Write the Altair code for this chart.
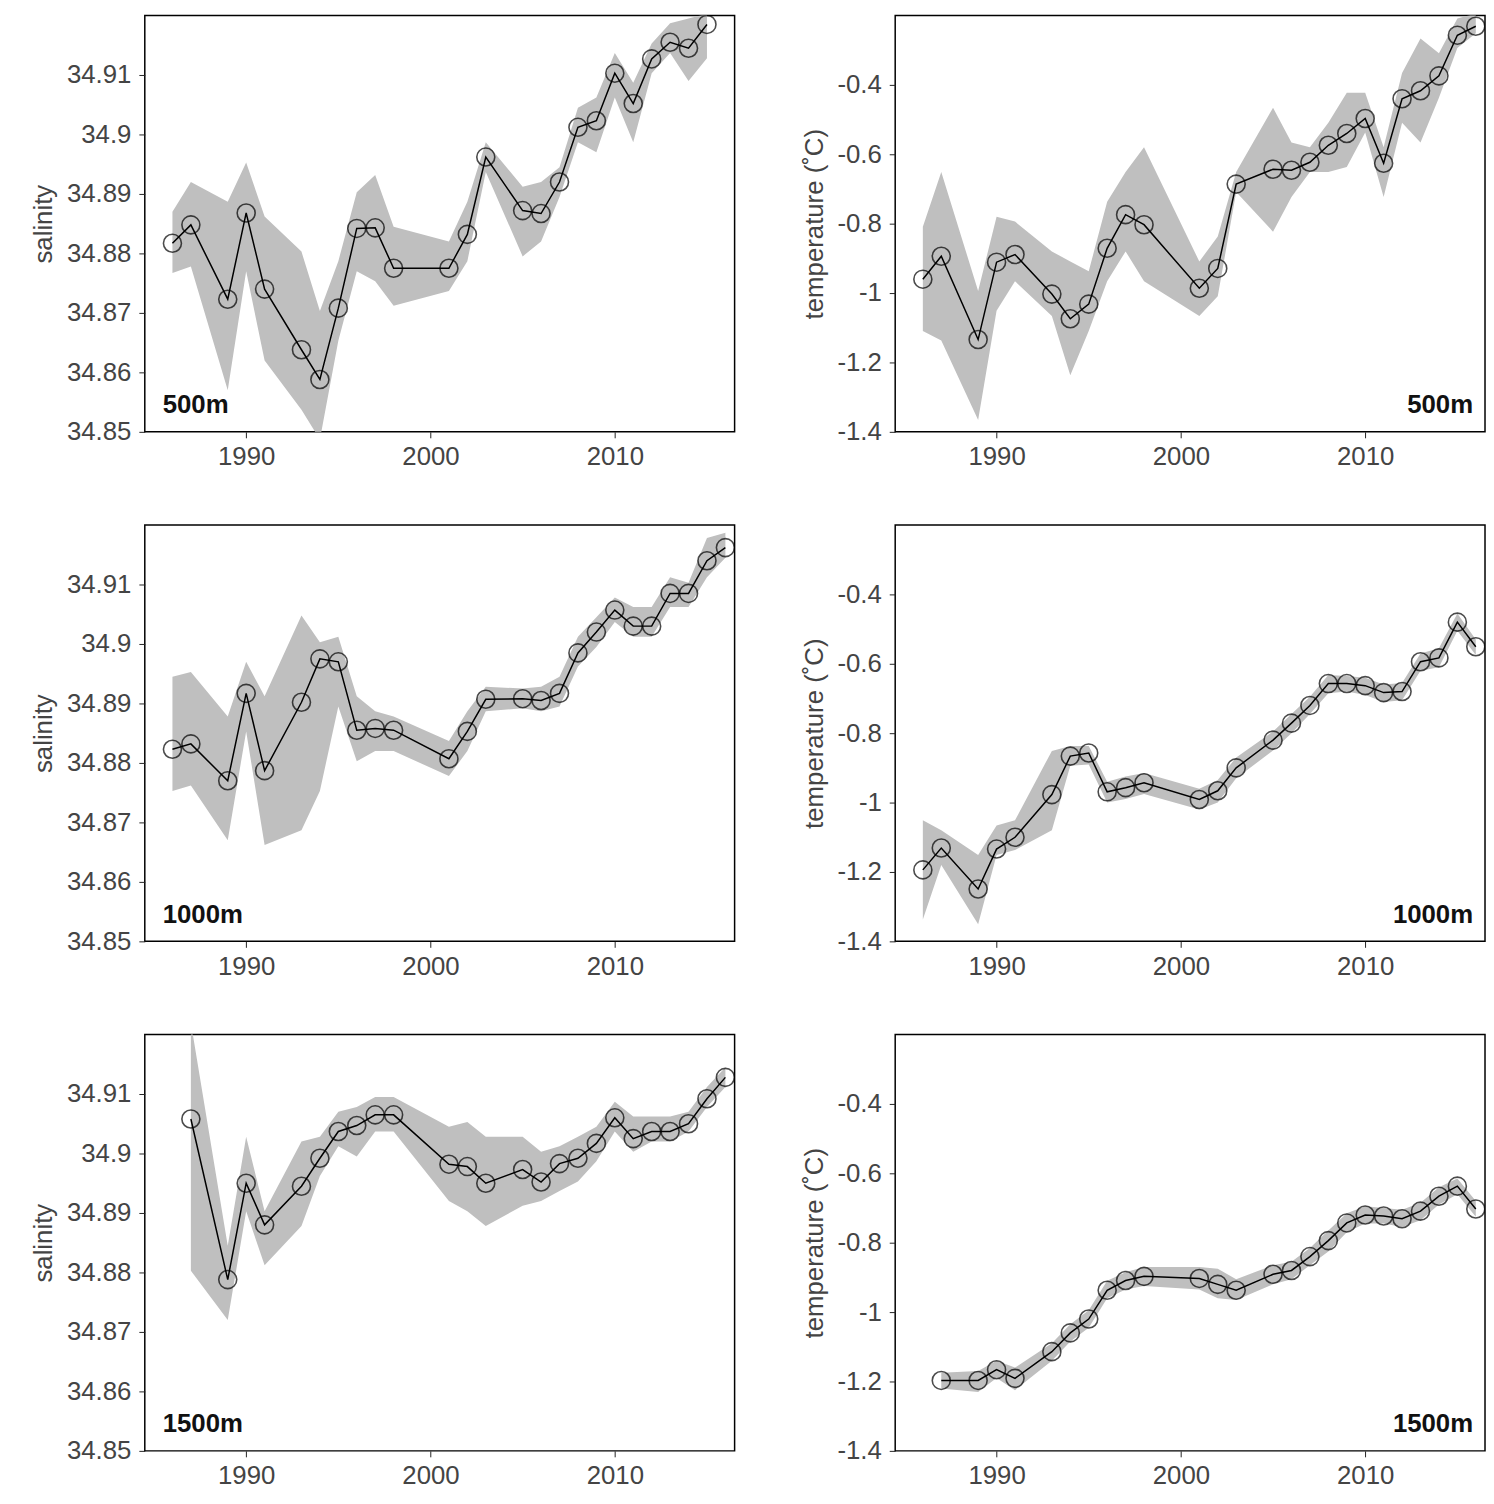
import altair as alt
import pandas as pd

years_a = [1986, 1987, 1989, 1990, 1991, 1993, 1994, 1995, 1996, 1997, 1998, 2001, 2002,
           2003, 2005, 2006, 2007, 2008, 2009, 2010, 2011, 2012, 2013, 2014, 2015]
years_b = years_a + [2016]
years_c = [1987, 1989, 1990, 1991, 1993, 1994, 1995, 1996, 1997, 1998, 2001, 2002,
           2003, 2005, 2006, 2007, 2008, 2009, 2010, 2011, 2012, 2013, 2014, 2015, 2016]

# 500 m salinity
sal500 = [34.8817, 34.8848, 34.8723, 34.8868, 34.874, 34.8638, 34.8588, 34.8708, 34.8842, 34.8843,
          34.8775, 34.8775, 34.8832, 34.8962, 34.8872, 34.8867, 34.892, 34.9012, 34.9023, 34.9103,
          34.9052, 34.9127, 34.9155, 34.9145, 34.9185]
sal500_hi = [34.887, 34.892, 34.8887, 34.8953, 34.8862, 34.8803, 34.8703, 34.8787, 34.8903, 34.8932,
             34.8845, 34.882, 34.8887, 34.8987, 34.8912, 34.892, 34.8945, 34.9045, 34.9062, 34.9137,
             34.9087, 34.9153, 34.9187, 34.9195, 34.9203]
sal500_lo = [34.8767, 34.8778, 34.857, 34.877, 34.862, 34.8537, 34.8487, 34.8653, 34.877, 34.8753,
             34.8712, 34.8737, 34.8787, 34.8937, 34.8795, 34.882, 34.8895, 34.8987, 34.897, 34.9062,
             34.8987, 34.9103, 34.9137, 34.909, 34.9128]

# 500 m temperature
tem500 = [-0.960, -0.894, -1.134, -0.911, -0.889, -1.003, -1.074, -1.032, -0.871, -0.774, -0.803,
          -0.986, -0.929, -0.686, -0.643, -0.646, -0.623, -0.574, -0.540, -0.497, -0.626, -0.440,
          -0.417, -0.374, -0.257, -0.231]
tem500_hi = [-0.809, -0.651, -0.994, -0.780, -0.794, -0.880, -0.909, -0.937, -0.737, -0.651, -0.580,
             -0.909, -0.837, -0.651, -0.466, -0.566, -0.580, -0.509, -0.423, -0.423, -0.580, -0.366,
             -0.266, -0.309, -0.209, -0.194]
tem500_lo = [-1.109, -1.137, -1.366, -1.051, -0.966, -1.066, -1.237, -1.109, -0.966, -0.880, -0.966,
             -1.066, -1.009, -0.709, -0.823, -0.723, -0.651, -0.651, -0.637, -0.537, -0.723, -0.509,
             -0.566, -0.437, -0.294, -0.251]

# 1000 m salinity
sal1000 = [34.8823, 34.8832, 34.877, 34.8917, 34.8787, 34.8902, 34.8975, 34.897, 34.8855, 34.8858,
           34.8855, 34.8807, 34.8853, 34.8907, 34.8908, 34.8905, 34.8917, 34.8985, 34.902, 34.9057,
           34.903, 34.903, 34.9085, 34.9085, 34.914, 34.9162]
sal1000_hi = [34.8945, 34.8953, 34.8878, 34.897, 34.8912, 34.9048, 34.9003, 34.9012, 34.8912, 34.8887,
              34.8878, 34.8837, 34.8887, 34.8928, 34.8925, 34.8928, 34.8945, 34.9012, 34.9045, 34.9078,
              34.9062, 34.9062, 34.9112, 34.9103, 34.9178, 34.9187]
sal1000_lo = [34.8753, 34.8762, 34.867, 34.8853, 34.8662, 34.8687, 34.8753, 34.8895, 34.8803, 34.882,
              34.882, 34.8778, 34.882, 34.8887, 34.8892, 34.8887, 34.8895, 34.8962, 34.8995, 34.9037,
              34.9012, 34.9012, 34.9062, 34.9062, 34.9112, 34.9145]

# 1000 m temperature
tem1000 = [-1.194, -1.131, -1.249, -1.134, -1.100, -0.977, -0.866, -0.857, -0.969, -0.957, -0.943,
           -0.991, -0.966, -0.900, -0.820, -0.771, -0.720, -0.657, -0.657, -0.663, -0.683, -0.680,
           -0.594, -0.583, -0.480, -0.551]
tem1000_hi = [-1.051, -1.080, -1.151, -1.066, -1.051, -0.851, -0.837, -0.837, -0.940, -0.925, -0.915,
              -0.960, -0.935, -0.870, -0.795, -0.745, -0.695, -0.632, -0.635, -0.640, -0.660, -0.655,
              -0.570, -0.555, -0.455, -0.530]
tem1000_lo = [-1.337, -1.180, -1.351, -1.151, -1.137, -1.080, -0.894, -0.890, -1.000, -0.990, -0.975,
              -1.020, -1.000, -0.930, -0.850, -0.800, -0.745, -0.685, -0.680, -0.690, -0.710, -0.705,
              -0.620, -0.610, -0.505, -0.575]

# 1500 m salinity
sal1500 = [34.9058, 34.8788, 34.895, 34.888, 34.8945, 34.8992, 34.9037, 34.9047, 34.9065, 34.9065,
           34.8982, 34.8978, 34.895, 34.8973, 34.8952, 34.8983, 34.8992, 34.9017, 34.906, 34.9025,
           34.9037, 34.9037, 34.905, 34.9092, 34.9128]
sal1500_hi = [34.922, 34.8845, 34.9028, 34.8903, 34.902, 34.9028, 34.907, 34.9078, 34.9095, 34.9095,
              34.9045, 34.9053, 34.9028, 34.9028, 34.9003, 34.9012, 34.9028, 34.9045, 34.9087, 34.9062,
              34.9062, 34.9062, 34.907, 34.9112, 34.9145]
sal1500_lo = [34.8803, 34.872, 34.8903, 34.8812, 34.8878, 34.8962, 34.9012, 34.8995, 34.9037, 34.9037,
              34.892, 34.8903, 34.8878, 34.8912, 34.892, 34.8937, 34.8953, 34.8987, 34.9037, 34.9003,
              34.902, 34.902, 34.9037, 34.9078, 34.9112]

# 1500 m temperature
tem1500 = [-1.197, -1.197, -1.166, -1.191, -1.114, -1.060, -1.020, -0.937, -0.909, -0.897, -0.903,
           -0.920, -0.937, -0.891, -0.880, -0.840, -0.794, -0.743, -0.720, -0.723, -0.731, -0.709,
           -0.666, -0.637, -0.703]
tem1500_hi = [-1.175, -1.170, -1.140, -1.160, -1.090, -1.035, -0.995, -0.910, -0.885, -0.870, -0.870,
              -0.875, -0.905, -0.865, -0.855, -0.815, -0.765, -0.715, -0.695, -0.700, -0.705, -0.685,
              -0.640, -0.615, -0.680]
tem1500_lo = [-1.220, -1.230, -1.190, -1.225, -1.140, -1.085, -1.045, -0.960, -0.935, -0.925, -0.935,
              -0.960, -0.965, -0.920, -0.905, -0.865, -0.825, -0.770, -0.745, -0.745, -0.755, -0.735,
              -0.690, -0.660, -0.725]

sal_ticks = [34.85, 34.86, 34.87, 34.88, 34.89, 34.9, 34.91]
tem_ticks = [-1.4, -1.2, -1.0, -0.8, -0.6, -0.4]
year_ticks = [1990, 2000, 2010]

FONT = "Liberation Sans"
W, H = 595, 420


def panel(years, val, lo, hi, domain, ticks, ytitle, label, left):
    df = pd.DataFrame({"year": years, "v": val, "lo": lo, "hi": hi})
    x = alt.X("year:Q", scale=alt.Scale(domain=[1984.5, 2016.5], nice=False, zero=False),
              axis=alt.Axis(values=year_ticks, format="d", title=None))
    ys = alt.Scale(domain=domain, nice=False, zero=False)
    yax = alt.Axis(values=ticks, format="~g", title=ytitle,
                   labelExpr="replace(datum.label, '\u2212', '-')")
    base = alt.Chart(df)
    band = base.mark_area(color="#bfbfbf", clip=True).encode(
        x=x, y=alt.Y("lo:Q", scale=ys, axis=yax), y2="hi:Q")
    line = base.mark_line(color="black", strokeWidth=1.5, clip=True).encode(
        x=x, y=alt.Y("v:Q", scale=ys))
    pts = base.mark_point(color="black", size=330, strokeWidth=1.6, filled=False, clip=True).encode(
        x=x, y=alt.Y("v:Q", scale=ys))
    txt = alt.Chart(pd.DataFrame({"t": [label]})).mark_text(
        font=FONT, fontSize=26, fontWeight="bold", color="#111111",
        align="left" if left else "right", baseline="bottom").encode(
        text="t:N",
        x=alt.value(18 if left else W - 12),
        y=alt.value(H - 14))
    return alt.layer(band, line, pts, txt).properties(width=W, height=H)


rows = []
for sv, sl, sh, ys_, tv, tl, th, yt, lab in [
    (sal500, sal500_lo, sal500_hi, years_a, tem500, tem500_lo, tem500_hi, years_b, "500m"),
    (sal1000, sal1000_lo, sal1000_hi, years_b, tem1000, tem1000_lo, tem1000_hi, years_b, "1000m"),
    (sal1500, sal1500_lo, sal1500_hi, years_c, tem1500, tem1500_lo, tem1500_hi, years_c, "1500m"),
]:
    left = panel(ys_, sv, sl, sh, [34.85, 34.92], sal_ticks, "salinity", lab, True)
    right = panel(yt, tv, tl, th, [-1.4, -0.2], tem_ticks, "temperature (˚C)", lab, False)
    rows.append(alt.hconcat(left, right, spacing=65))

chart = alt.vconcat(*rows, spacing=54).properties(
    padding={"left": 22, "top": 0, "right": 0, "bottom": 5}
).configure_view(
    stroke="black", strokeWidth=1.5
).configure_axis(
    labelFont=FONT, titleFont=FONT, labelFontSize=26, titleFontSize=26,
    labelColor="#444444", titleColor="#444444", titleFontWeight="normal",
    grid=False, domain=False, ticks=True, tickColor="#222222", tickSize=6,
    labelPadding=6, titlePadding=10
).configure_axisY(labelPadding=8)

chart.save("out.html", embed_options={"renderer": "svg", "actions": False})
